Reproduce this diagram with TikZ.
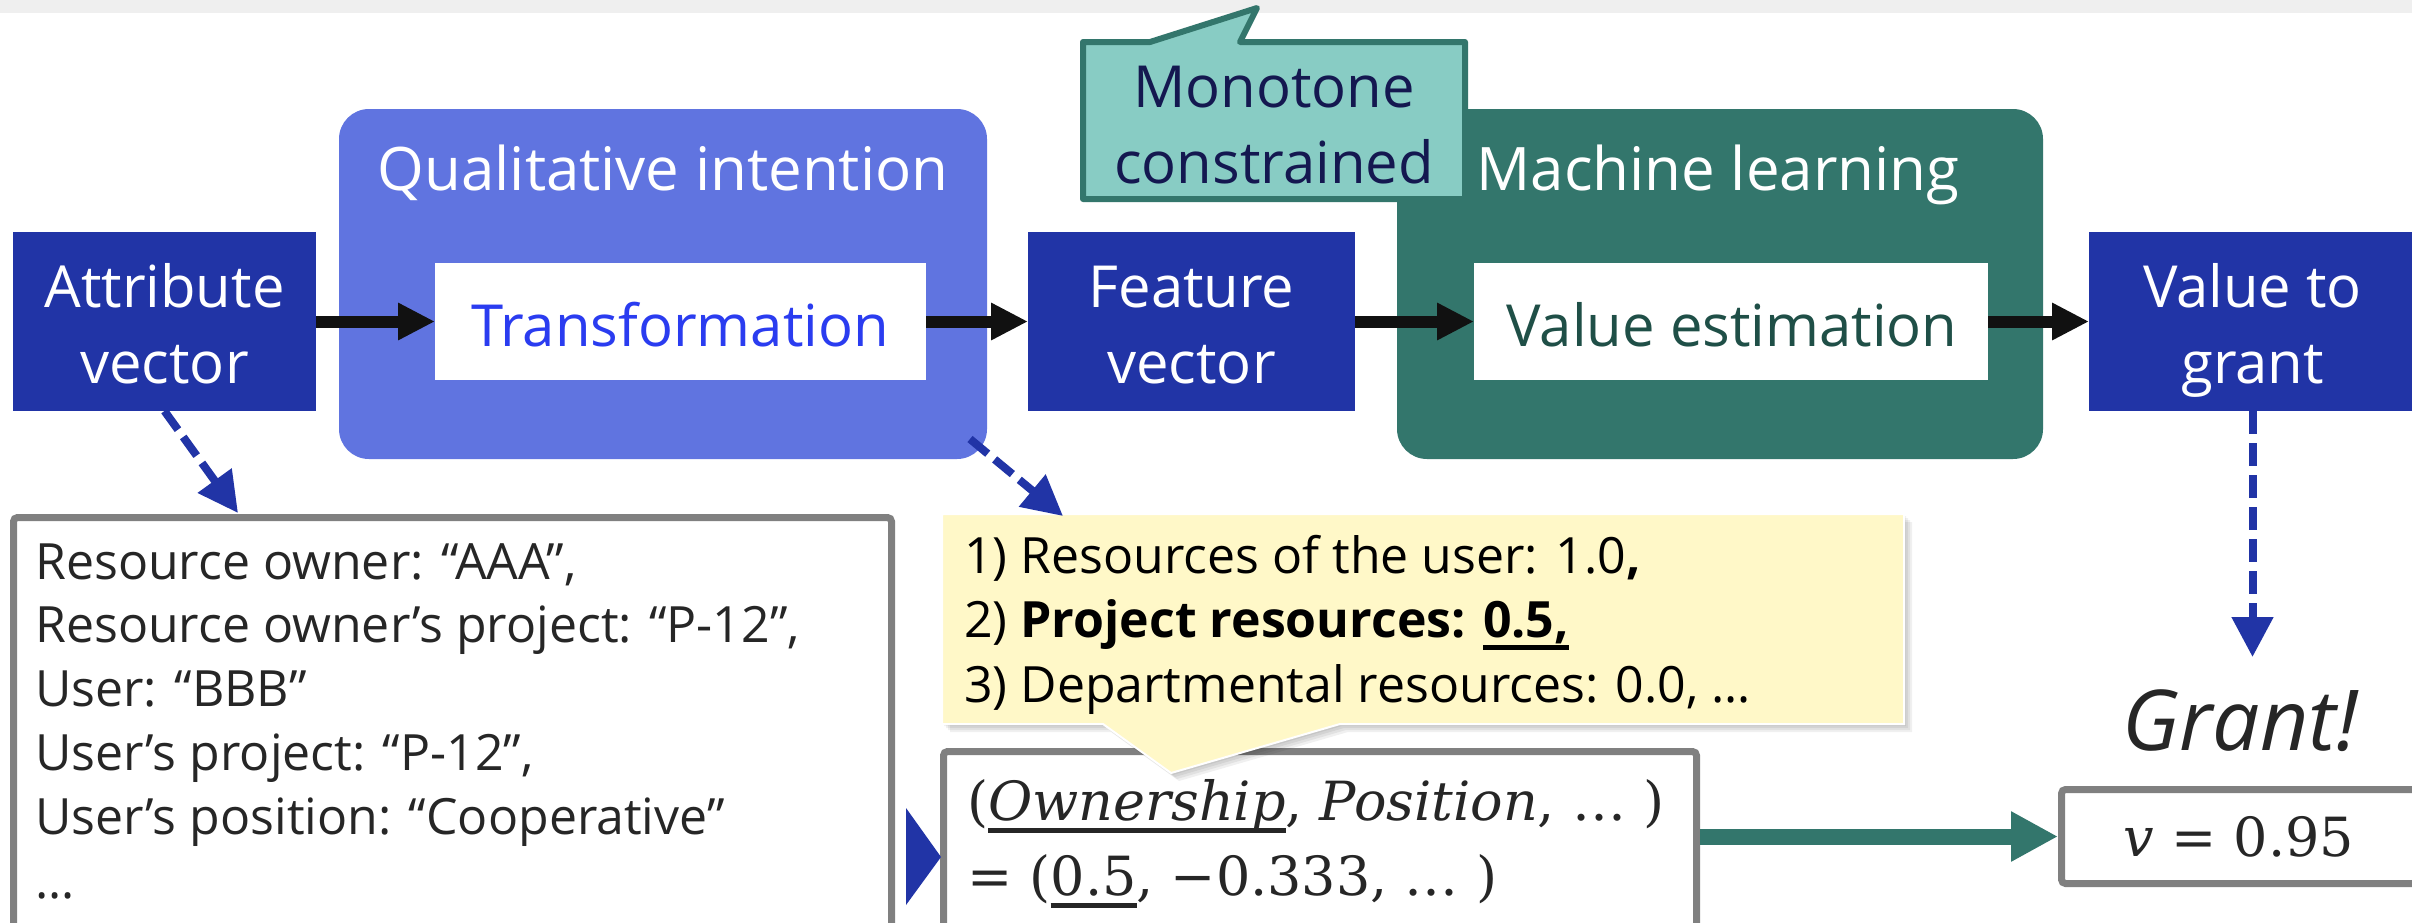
\documentclass[tikz,border=0pt]{standalone}
\usepackage{fontspec}
\setmainfont{Open Sans}
\newfontfamily\formulafont{DejaVu Serif}
\usetikzlibrary{arrows.meta,calc}

\definecolor{navyfill}{HTML}{2134A6}
\definecolor{qifill}{HTML}{6074E0}
\definecolor{transblue}{HTML}{2A3CF0}
\definecolor{mlfill}{HTML}{33766C}
\definecolor{vetext}{HTML}{1F4F47}
\definecolor{monofill}{HTML}{88CCC4}
\definecolor{monotext}{HTML}{141850}
\definecolor{boxgray}{HTML}{808080}
\definecolor{notefill}{HTML}{FFF8C8}
\definecolor{listdark}{HTML}{262626}
\definecolor{bandgray}{HTML}{EFEFEF}
\definecolor{flowblack}{HTML}{111111}

% thick underline used in the value lists
\newcommand\thickul[1]{\setbox0\hbox{#1}\rlap{\rule[-13pt]{\wd0}{5pt}}\box0}

\tikzset{
  panel/.style={rounded corners=30pt, draw=none, inner sep=0pt, outer sep=0pt},
  paneltitle/.style={anchor=base, inner sep=0pt, text=white, font=\fontsize{60}{70}\selectfont},
  stepbox/.style={fill=white, draw=none, inner sep=0pt, outer sep=0pt, minimum height=117pt},
  steplabel/.style={anchor=base, inner sep=0pt, font=\fontsize{58}{70}\selectfont},
  vecbox/.style={fill=navyfill, draw=none, inner sep=0pt, outer sep=0pt, minimum height=179pt},
  veclabel/.style={anchor=base, inner sep=0pt, text=white, font=\fontsize{58}{70}\selectfont},
  listbox/.style={fill=white, draw=boxgray, line width=7pt, rounded corners=4pt, inner sep=0pt, outer sep=3.5pt},
  listtext/.style={anchor=base west, inner sep=0pt, text=listdark, font=\fontsize{50}{60}\selectfont},
  mathtext/.style={anchor=base west, inner sep=0pt, text=listdark, font=\formulafont\fontsize{54}{64}\selectfont},
  flow/.style={draw=flowblack, line width=12pt, -{Triangle[length=37pt,width=35pt]}},
  tealflow/.style={draw=mlfill, line width=16pt, -{Triangle[length=47pt,width=47pt]}},
  hint/.style={draw=navyfill, line width=8pt, dash pattern=on 23pt off 9pt, -{Triangle[length=40pt,width=40pt]}},
}

\begin{document}
\begin{tikzpicture}[x=1pt,y=-1pt]
\useasboundingbox (0,0) rectangle (2412,922);
\clip (0,0) rectangle (2412,922);
\fill[white] (0,0) rectangle (2412,922);
\fill[bandgray] (0,0) rectangle (2412,13);

% grouping panels
\node[panel, fill=qifill, minimum width=648pt, minimum height=350pt] (qi) at (663,284) {};
\node[paneltitle] (qi-title) at (663,190) {Qualitative intention};
\node[panel, fill=mlfill, minimum width=646pt, minimum height=350pt] (ml) at (1720,284) {};
\node[paneltitle] (ml-title) at (1718,190) {Machine learning};

% processing steps
\node[stepbox, minimum width=491pt] (trans) at (680.5,321.5) {};
\node[steplabel, text=transblue] (trans-l) at (680,346) {Transformation};
\node[stepbox, minimum width=514pt] (ve) at (1731,321.5) {};
\node[steplabel, text=vetext] (ve-l) at (1732,346) {Value estimation};

% vectors
\node[vecbox, minimum width=303pt] (attr) at (164.5,321.5) {};
\node[veclabel] (attr-l1) at (164.5,307) {Attribute};
\node[veclabel] (attr-l2) at (164.5,383) {vector};
\node[vecbox, minimum width=327pt] (feat) at (1191.5,321.5) {};
\node[veclabel] (feat-l1) at (1191.5,307) {Feature};
\node[veclabel] (feat-l2) at (1191.5,383) {vector};
\node[vecbox, minimum width=327pt] (vtg) at (2252.5,321.5) {};
\node[veclabel] (vtg-l1) at (2252.5,307) {Value to};
\node[veclabel] (vtg-l2) at (2252.5,383) {grant};

% monotone callout
\node[inner sep=0pt, outer sep=0pt, minimum width=382pt, minimum height=157pt] (mono) at (1274,120.5) {};
\coordinate (monotip) at (1257,8);
\filldraw[draw=mlfill, fill=monofill, line width=6pt, line join=round]
  (mono.north west) -- ($(mono.north west)+(67,0)$) -- (monotip)
  -- ($(mono.north west)+(157,0)$) -- (mono.north east) -- (mono.south east)
  -- (mono.south west) -- cycle;
\node[steplabel, text=monotext] (mono-l1) at (1274,107) {Monotone};
\node[steplabel, text=monotext] (mono-l2) at (1274,183) {constrained};

% main flow
\draw[flow] (attr.east) -- (trans.west);
\draw[flow] (trans.east) -- (feat.west);
\draw[flow] (feat.east) -- (ve.west);
\draw[flow] (ve.east) -- (vtg.west);

% attribute list
\node[listbox, minimum width=878pt, minimum height=419pt] (attrs) at (452.5,727) {};
\foreach \txt [count=\i from 0] in {{Resource owner: “AAA”,},{Resource owner’s project: “P-12”,},{User: “BBB”},{User’s project: “P-12”,},{User’s position: “Cooperative”},{…}}
  \node[listtext] (attrs-\i) at (35,{579+63.8*\i}) {\txt};

% feature values
\node[listbox, minimum width=753pt, minimum height=185pt] (formula) at (1320,844) {};
\node[mathtext] (formula-1) at (967,820) {(\thickul{\itshape Ownership}, \textit{Position}, … )};
\node[mathtext] (formula-2) at (967,895) {= (\thickul{0.5}, −0.333, … )};

% note on the transformation
\node[inner sep=0pt, outer sep=0pt, minimum width=962pt, minimum height=210pt] (note) at (1423,619) {};
\coordinate (notetip) at (1171,773);
\foreach \s in {2,4,6,8} {
  \begin{scope}[transform canvas={shift={(\s,\s)}}]
    \fill[black, opacity=0.06]
      (note.north west) -- (note.north east) -- (note.south east)
      -- ($(note.south west)+(398,0)$) -- (notetip) -- ($(note.south west)+(161,0)$)
      -- (note.south west) -- cycle;
  \end{scope}
}
\filldraw[fill=notefill, draw=white, line width=2pt]
  (note.north west) -- (note.north east) -- (note.south east)
  -- ($(note.south west)+(398,0)$) -- (notetip) -- ($(note.south west)+(161,0)$)
  -- (note.south west) -- cycle;
\node[listtext, text=black] (note-1) at (964,573) {1) Resources of the user: 1.0\textbf{,}};
\node[listtext, text=black] (note-2) at (964,637) {2) \textbf{Project resources: \thickul{0.5,}}};
\node[listtext, text=black] (note-3) at (964,702) {3) Departmental resources: 0.0, …};

% hints
\coordinate (attrs-hit) at (238,513);
\draw[hint] (attr.south) -- (attrs-hit);
\coordinate (qi-from) at (970,439);
\coordinate (note-hit) at (1063,516);
\draw[hint] (qi-from) -- (note-hit);
\coordinate (grant-hit) at (2252.5,657);
\draw[hint] (vtg.south) -- (grant-hit);

% decision
\node[anchor=base, inner sep=0pt, text=listdark, font=\itshape\fontsize{84}{96}\selectfont] (grant) at (2240,750) {Grant!};
\node[listbox, minimum width=355pt, minimum height=94pt, text=listdark, font=\formulafont\fontsize{54}{64}\selectfont] (vbox) at (2239,836.5) {\textit{v} = 0.95};
\draw[tealflow] (formula.east |- vbox.west) -- (vbox.west);

% entry marker of the attribute list into the feature values
\coordinate (feedtip) at ($(formula.west)+(1,13)$);
\fill[navyfill] ($(feedtip)+(-35,-49)$) -- ($(feedtip)+(-35,48)$) -- (feedtip) -- cycle;
\end{tikzpicture}
\end{document}
